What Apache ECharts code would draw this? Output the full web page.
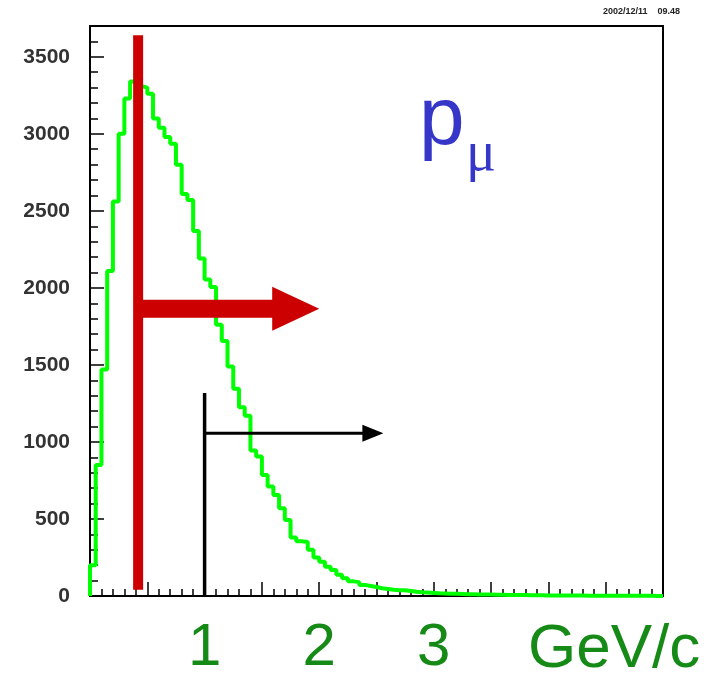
<!DOCTYPE html>
<html>
<head>
<meta charset="utf-8">
<script src="https://cdn.jsdelivr.net/npm/echarts@6/dist/echarts.min.js"></script>
<style>
  html, body { margin: 0; padding: 0; background: #fff; }
  #chart { width: 719px; height: 681px; }
</style>
</head>
<body>
<div id="chart"></div>
<script>
// histogram p_mu, 100 bins of 0.05 GeV/c from 0 to 5
const binWidth = 0.05;
const counts = [
  200, 850, 1470, 2110, 2560, 3000, 3230, 3340, 3310, 3300,
  3260, 3100, 3040, 2980, 2935, 2800, 2610, 2570, 2370, 2190,
  2055, 2005, 1760, 1655, 1490, 1345, 1225, 1170, 945, 905,
  785, 710, 655, 570, 494, 380, 355, 350, 300, 250,
  222, 190, 168, 138, 115, 95, 90, 72, 65, 58,
  50, 46, 40, 38, 37, 33, 27, 24, 22, 20,
  18, 17, 15, 14, 13, 12, 11, 10, 9, 9,
  8, 8, 7, 7, 6, 6, 5, 5, 5, 4,
  4, 4, 3, 3, 3, 3, 2, 2, 2, 2,
  2, 1, 1, 1, 1, 1, 1, 1, 0, 0
];
const xLabels = [1, 2, 3];
const unitLabel = 'GeV/c';
const dateLabel = '2002/12/11    09.48';

// cut lines: [x, yFrom, yTo]
const redCut = [0.42, 40, 3640];
const blackCut = [1.0, 0, 1318];
// arrows: [xFrom, xTip, y]
const redArrow = [0.42, 2.0, 1864];
const blackArrow = [1.0, 2.56, 1056];

// step points
let histData = [[0, 0]];
counts.forEach(function (v, i) { histData.push([i * binWidth, v]); });
histData.push([counts.length * binWidth, counts[counts.length - 1]]);

function arrowSeries(arr, color, h, L, H) {
  return {
    type: 'custom',
    xAxisIndex: 0, yAxisIndex: 0,
    silent: true,
    z: 4,
    data: [arr],
    renderItem: function (params, api) {
      const s = api.coord([api.value(0), api.value(2)]);
      const t = api.coord([api.value(1), api.value(2)]);
      const y = s[1];
      return {
        type: 'polygon',
        shape: {
          points: [
            [s[0], y - h], [t[0] - L, y - h], [t[0] - L, y - H], [t[0], y],
            [t[0] - L, y + H], [t[0] - L, y + h], [s[0], y + h]
          ]
        },
        style: { fill: color }
      };
    }
  };
}

const chart = echarts.init(document.getElementById('chart'), null, { renderer: 'canvas' });
const axisLineStyle = { color: '#000', width: 2 };
chart.setOption({
  animation: false,
  backgroundColor: '#fff',
  grid: {
    left: 90, right: 56, top: 26, bottom: 85,
    show: true, borderColor: '#000', borderWidth: 2, backgroundColor: 'transparent'
  },
  xAxis: [
    {
      type: 'value', min: 0, max: 5, interval: 0.1, position: 'bottom',
      axisLine: { onZero: false, lineStyle: axisLineStyle },
      axisTick: { inside: true, length: 7, lineStyle: { color: '#000', width: 1.5 } },
      axisLabel: { show: false },
      splitLine: { show: false }
    },
    {
      type: 'value', min: 0, max: 5, interval: 0.5, position: 'bottom',
      axisLine: { onZero: false, lineStyle: axisLineStyle },
      axisTick: { inside: true, length: 14, lineStyle: { color: '#000', width: 1.5 } },
      axisLabel: {
        margin: 22,
        fontFamily: 'Liberation Sans',
        fontSize: 60,
        lineHeight: 60,
        color: '#168a16',
        formatter: function (v) { return xLabels.indexOf(v) >= 0 ? String(v) : ''; }
      },
      splitLine: { show: false }
    }
  ],
  yAxis: [
    {
      type: 'value', min: 0, max: 3700, interval: 100, position: 'left',
      axisLine: { onZero: false, lineStyle: axisLineStyle },
      axisTick: { inside: true, length: 8, lineStyle: { color: '#000', width: 1.5 } },
      axisLabel: { show: false },
      splitLine: { show: false }
    },
    {
      type: 'value', min: 0, max: 3700, interval: 500, position: 'left',
      axisLine: { onZero: false, lineStyle: axisLineStyle },
      axisTick: { inside: true, length: 14, lineStyle: { color: '#000', width: 1.5 } },
      axisLabel: {
        margin: 20,
        fontFamily: 'Liberation Sans',
        fontWeight: 'bold',
        fontSize: 21,
        color: '#333',
        formatter: function (v) { return v % 500 === 0 ? String(v) : ''; }
      },
      splitLine: { show: false }
    }
  ],
  graphic: [
    {
      type: 'text', left: 'auto', right: 39, top: 7,
      style: { text: dateLabel, font: 'bold 9px "Liberation Sans"', fill: '#222' }
    },
    {
      type: 'text', x: 419, y: 121,
      style: { text: 'p', font: '82px "Liberation Sans"', fill: '#3636c8', verticalAlign: 'middle' }
    },
    {
      type: 'text', x: 466, y: 155,
      style: { text: 'μ', font: '56px "Liberation Serif"', fill: '#3636c8', verticalAlign: 'middle' }
    },
    {
      type: 'text', x: 528, y: 650,
      style: { text: unitLabel, font: '62px "Liberation Sans"', fill: '#168a16', verticalAlign: 'middle' }
    }
  ],
  series: [
    {
      type: 'line', step: 'end', xAxisIndex: 0, yAxisIndex: 0,
      data: histData, symbol: 'none', z: 2,
      lineStyle: { color: '#00ff00', width: 4 }
    },
    {
      type: 'line', xAxisIndex: 0, yAxisIndex: 0, symbol: 'none', z: 3,
      data: [[redCut[0], redCut[1]], [redCut[0], redCut[2]]],
      lineStyle: { color: '#cc0000', width: 10, cap: 'butt' }
    },
    {
      type: 'line', xAxisIndex: 0, yAxisIndex: 0, symbol: 'none', z: 3,
      data: [[blackCut[0], blackCut[1]], [blackCut[0], blackCut[2]]],
      lineStyle: { color: '#000', width: 3.5, cap: 'butt' }
    },
    arrowSeries(redArrow, '#cc0000', 9, 47, 22),
    arrowSeries(blackArrow, '#000', 1.5, 21, 8.5)
  ]
});
</script>
</body>
</html>
